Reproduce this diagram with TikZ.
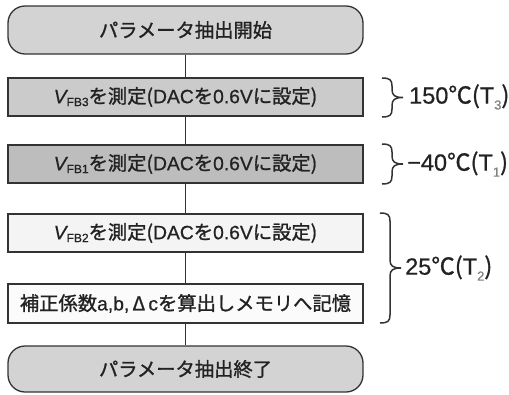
\documentclass[tikz,border=0pt]{standalone}
\usepackage{fontspec}
\setmainfont{Noto Sans CJK JP}[FakeBold=1.2]
\newfontfamily\latinf{Liberation Sans}[FakeBold=0.6]
\definecolor{edge}{HTML}{333333}
\definecolor{ink}{HTML}{222222}
\definecolor{termfill}{HTML}{D3D3D3}
\definecolor{fillA}{HTML}{CBCBCB}
\definecolor{fillB}{HTML}{BDBDBD}
\definecolor{fillC}{HTML}{F4F4F4}
\definecolor{fillD}{HTML}{FBFBFB}
\newcommand\la[1]{{\latinf #1}}
\newcommand\vfb[1]{{\latinf\itshape V}\raisebox{-0.15em}{\fontsize{12}{13}\selectfont\latinf #1}}
\newcommand\tsub[1]{\raisebox{-0.25em}{\fontsize{13}{14}\selectfont\latinf\color{gray}#1}}
\newcommand\mybrace[3]{%
  \pgfmathsetmacro\ym{-(#2+#3)/2}%
  \draw[bracestyle] (#1,-#2) .. controls (#1+8,-#2) and (#1+10,-#2-2) .. (#1+10,-#2-8)
    -- (#1+10,\ym+8) .. controls (#1+10,\ym+2) and (#1+13,\ym) .. (#1+21,\ym)
    .. controls (#1+13,\ym) and (#1+10,\ym-2) .. (#1+10,\ym-8)
    -- (#1+10,-#3+8) .. controls (#1+10,-#3+2) and (#1+8,-#3) .. (#1,-#3);}
\tikzset{
  term/.style={draw=edge, line width=1.3pt, fill=termfill, rounded corners=17pt,
    minimum width=355pt, inner sep=0pt, text=ink, font=\fontsize{19.3}{21}\selectfont},
  stepbox/.style={draw=edge, line width=1.3pt, minimum width=355pt, minimum height=38pt,
    inner sep=0pt, text=ink, font=\fontsize{19.3}{21}\selectfont},
  conn/.style={draw=edge, line width=1.2pt},
  bracestyle/.style={draw=edge, line width=1.5pt},
  templabel/.style={anchor=west, inner sep=0pt, text=ink, font=\fontsize{23.5}{25}\selectfont}
}
\begin{document}
\begin{tikzpicture}[x=1pt,y=1pt]
\useasboundingbox (0,0) rectangle (509,-394);
\node[term, minimum height=48pt] (start) at (185.5,-30) {パラメータ抽出開始};
\node[stepbox, fill=fillA] (b1) at (185.5,-97) {\vfb{FB3}を測定(\la{DAC}を\la{0.6V}に設定)};
\node[stepbox, fill=fillB] (b2) at (185.5,-164) {\vfb{FB1}を測定(\la{DAC}を\la{0.6V}に設定)};
\node[stepbox, fill=fillC] (b3) at (185.5,-233) {\vfb{FB2}を測定(\la{DAC}を\la{0.6V}に設定)};
\node[stepbox, fill=fillD, minimum height=39pt] (b4) at (185.5,-303.5) {補正係数\la{a,b,\,}Δ\,\la{c}を算出しメモリへ記憶};
\node[term, minimum height=46pt] (end) at (185.5,-369) {パラメータ抽出終了};
\draw[conn] (start) -- (b1);
\draw[conn] (b1) -- (b2);
\draw[conn] (b2) -- (b3);
\draw[conn] (b3) -- (b4);
\draw[conn] (b4) -- (end);
\mybrace{382}{78}{117}
\mybrace{382}{144}{184}
\mybrace{380}{213}{323}
\node[templabel] (t3) at (409,-97) {\la{150}℃(\la{T}\tsub{3})};
\node[templabel] (t1) at (407,-164) {\la{−40}℃(\la{T}\tsub{1})};
\node[templabel] (t2) at (405,-268) {\la{25}℃(\la{T}\tsub{2})};
\end{tikzpicture}
\end{document}
